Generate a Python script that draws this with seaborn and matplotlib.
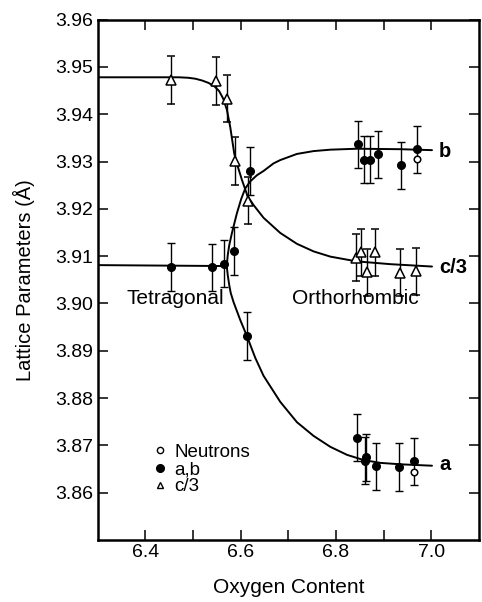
import numpy as np
import pandas as pd
import matplotlib
matplotlib.use("Agg")
import matplotlib.pyplot as plt
import seaborn as sns
from matplotlib.lines import Line2D

# ---------------- data ----------------
# c/3 (open triangles)
c3_x = [6.455, 6.549, 6.571, 6.589, 6.615, 6.843, 6.853, 6.866, 6.881, 6.935, 6.968]
c3_y = [3.9472, 3.9470, 3.9433, 3.9301, 3.9217, 3.9097, 3.9108, 3.9066, 3.9108, 3.9065, 3.9068]
c3_err = [0.005] * 11

# a,b (filled circles)
ab_x = [6.454, 6.541, 6.565, 6.587, 6.619, 6.613,
        6.846, 6.858, 6.871, 6.888, 6.936, 6.969,
        6.844, 6.860, 6.864, 6.884, 6.933, 6.964]
ab_y = [3.9077, 3.9076, 3.9084, 3.9111, 3.9280, 3.8931,
        3.9336, 3.9304, 3.9304, 3.9315, 3.9292, 3.9326,
        3.8716, 3.8668, 3.8675, 3.8656, 3.8654, 3.8666]
ab_err = [0.005] * 18

# neutrons (open circles)
neu_x = [6.969, 6.964]
neu_y = [3.9306, 3.8644]

# guide curves
tet_x = [6.300, 6.571]
tet_y = [3.9081, 3.9079]

b_curve_x = [6.571, 6.5731, 6.5762, 6.5819, 6.5924, 6.6014, 6.6098, 6.6203, 6.6343,
             6.6482, 6.6691, 6.6832, 6.7182, 6.7531, 6.7881, 6.8441, 6.9349, 7.0014]
b_curve_y = [3.9079, 3.9102, 3.9123, 3.9149, 3.9191, 3.9221, 3.9243, 3.9258, 3.9271,
             3.9280, 3.9296, 3.9303, 3.9316, 3.9322, 3.9325, 3.9327, 3.9326, 3.9324]

a_curve_x = [6.571, 6.5731, 6.5762, 6.5794, 6.5852, 6.5993, 6.6133, 6.6308, 6.6482,
             6.6832, 6.7182, 6.7531, 6.7881, 6.8231, 6.8579, 6.8930, 6.9349, 7.0014]
a_curve_y = [3.9079, 3.9060, 3.9039, 3.9022, 3.9003, 3.8965, 3.8931, 3.8885, 3.8847,
             3.8792, 3.8749, 3.8720, 3.8697, 3.8680, 3.8669, 3.8663, 3.8660, 3.8657]

c3_curve_x = [6.300, 6.470, 6.490, 6.505, 6.520, 6.533, 6.545, 6.555, 6.5635, 6.5714,
              6.5783, 6.5825, 6.5867, 6.5930, 6.6029, 6.6146, 6.6272, 6.6482, 6.6832,
              6.7182, 6.7531, 6.7881, 6.8426, 6.9140, 7.0014]
c3_curve_y = [3.9478, 3.9478, 3.9477, 3.9475, 3.9471, 3.9466, 3.9459, 3.9449, 3.9433, 3.9409,
              3.9373, 3.9345, 3.9317, 3.9293, 3.9261, 3.9227, 3.9208, 3.9181, 3.9149,
              3.9126, 3.9110, 3.9099, 3.9089, 3.9083, 3.9078]

x_ticks = [6.4, 6.5, 6.6, 6.7, 6.8, 6.9, 7.0]
x_tick_labels = ["6.4", "", "6.6", "", "6.8", "", "7.0"]
y_ticks = [3.86, 3.87, 3.88, 3.89, 3.90, 3.91, 3.92, 3.93, 3.94, 3.95, 3.96]
y_tick_labels = ["3.86", "3.87", "3.88", "3.89", "3.90", "3.91", "3.92", "3.93", "3.94", "3.95", "3.96"]

legend_labels = ["Neutrons", "a,b", "c/3"]
curve_labels = ["b", "c/3", "a"]
curve_label_y = [3.9322, 3.9076, 3.8660]
phase_labels = ["Tetragonal", "Orthorhombic"]
phase_label_x = [6.463, 6.840]
phase_label_y = [3.9011, 3.9011]

# ---------------- figure ----------------
sns.set_theme(style="ticks")
plt.rcParams["font.family"] = ["Liberation Sans", "DejaVu Sans"]
plt.rcParams["text.color"] = "black"
plt.rcParams["axes.labelcolor"] = "black"
plt.rcParams["xtick.color"] = "black"
plt.rcParams["ytick.color"] = "black"

fig = plt.figure(figsize=(4.82, 6.02), dpi=100)
ax = fig.add_axes([0.2023, 0.103, 0.7915, 0.8645])

lw_curve = 1.4
for cx, cy in [(tet_x, tet_y), (b_curve_x, b_curve_y), (a_curve_x, a_curve_y), (c3_curve_x, c3_curve_y)]:
    df = pd.DataFrame({"x": cx, "y": cy})
    sns.lineplot(data=df, x="x", y="y", ax=ax, color="black", lw=lw_curve,
                 sort=False, estimator=None)

ax.errorbar(c3_x, c3_y, yerr=c3_err, fmt="^", ms=6.5, mfc="white", mec="black",
            mew=1.1, ecolor="black", elinewidth=1.0, capsize=3, capthick=1.0, zorder=4)
ax.errorbar(ab_x, ab_y, yerr=ab_err, fmt="o", ms=5.5, mfc="black", mec="black",
            ecolor="black", elinewidth=1.0, capsize=3, capthick=1.0, zorder=4)
sns.scatterplot(x=neu_x, y=neu_y, ax=ax, marker="o", s=22, facecolor="white",
                edgecolor="black", linewidth=1.1, zorder=5)

ax.set_xlim(6.3, 7.1)
ax.set_ylim(3.85, 3.96)
ax.set_xticks(x_ticks, x_tick_labels)
ax.set_yticks(y_ticks, y_tick_labels)
ax.tick_params(direction="in", length=7, width=1.1, top=True, right=True,
               labelsize=14, pad=3, colors="black")
for s in ax.spines.values():
    s.set_linewidth(1.8)
    s.set_color("black")

ax.set_xlabel("Oxygen Content", fontsize=15, labelpad=12)
ax.set_ylabel("Lattice Parameters (Å)", fontsize=14.5, labelpad=15)

for lab, yy in zip(curve_labels, curve_label_y):
    ax.text(7.016, yy, lab, ha="left", va="center", fontsize=14.5, fontweight="bold")
for lab, xx, yy in zip(phase_labels, phase_label_x, phase_label_y):
    ax.text(xx, yy, lab, ha="center", va="center", fontsize=15)

handles = [
    Line2D([], [], ls="none", marker="o", ms=4.5, mfc="white", mec="black", mew=1.0),
    Line2D([], [], ls="none", marker="o", ms=5.5, mfc="black", mec="black"),
    Line2D([], [], ls="none", marker="^", ms=5, mfc="white", mec="black", mew=1.0),
]
ax.legend(handles, legend_labels, loc="upper left", bbox_to_anchor=(0.115, 0.21),
          frameon=False, fontsize=13.5, handlelength=0.6, handletextpad=0.45,
          labelspacing=0.0, borderpad=0.2)

fig.savefig("out.png", dpi=100)
